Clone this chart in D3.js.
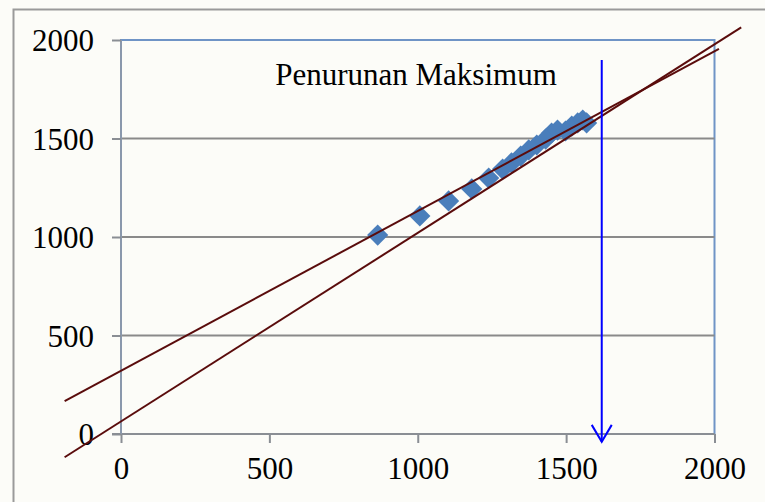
<!DOCTYPE html>
<html>
<head>
<meta charset="utf-8">
<script src="https://cdn.jsdelivr.net/npm/d3@7"></script>
<style>
  html, body { margin: 0; padding: 0; background: #fcfcf8; }
  svg { display: block; }
  svg text { font-family: "Liberation Serif", "Times New Roman", Times, "DejaVu Serif", serif; }
</style>
</head>
<body>
<svg id="chart" width="765" height="502"></svg>
<script>
// Measured settlement points (x vs y)
const xValues = [865, 1007, 1104, 1182, 1239, 1286, 1316, 1347, 1374, 1401, 1431, 1451, 1471, 1498, 1519, 1539, 1556, 1569];
const yValues = [1010, 1107, 1183, 1244, 1299, 1345, 1376, 1411, 1442, 1467, 1497, 1528, 1543, 1538, 1563, 1579, 1594, 1579];

// Two straight reference lines, each given by its two end points
const lineSteepX = [-190, 2090];
const lineSteepY = [-118, 2064];
const lineFlatX = [-190, 2015];
const lineFlatY = [167, 1955];

// Maximum settlement marker
const arrowX = 1620;
const arrowY = [1898, -40];
const arrowLabel = "Penurunan Maksimum";

const xTicks = [0, 500, 1000, 1500, 2000];
const yTicks = [0, 500, 1000, 1500, 2000];

const svg = d3.select("#chart");
const FONT = "Liberation Serif";

// Outer chart frame
svg.append("rect")
  .attr("x", 13.5).attr("y", 9.5)
  .attr("width", 800).attr("height", 600)
  .attr("fill", "#fcfcf8")
  .attr("stroke", "#9a9a9a").attr("stroke-width", 2);

const x = d3.scaleLinear().domain([0, 2000]).range([121, 714.5]);
const y = d3.scaleLinear().domain([0, 2000]).range([434, 40]);

// Plot area
svg.append("rect")
  .attr("x", x(0)).attr("y", y(2000))
  .attr("width", x(2000) - x(0)).attr("height", y(0) - y(2000))
  .attr("fill", "none")
  .attr("stroke", "#6f94c6").attr("stroke-width", 2);

// Horizontal gridlines
svg.append("g").selectAll("line")
  .data(yTicks.filter(t => t > 0 && t < 2000))
  .join("line")
  .attr("x1", x(0)).attr("x2", x(2000))
  .attr("y1", d => y(d)).attr("y2", d => y(d))
  .attr("stroke", "#8a8a8a").attr("stroke-width", 2);

// Axes
const xAxis = svg.append("g")
  .attr("transform", `translate(0,${y(0)})`)
  .call(d3.axisBottom(x).tickValues(xTicks).tickSize(9).tickPadding(14).tickFormat(d3.format("d")));
const yAxis = svg.append("g")
  .attr("transform", `translate(${x(0)},0)`)
  .call(d3.axisLeft(y).tickValues(yTicks).tickSize(9).tickPadding(18).tickFormat(d3.format("d")));

[xAxis, yAxis].forEach(a => a.attr("font-family", FONT).attr("font-size", 31));
xAxis.select(".domain").attr("stroke", "#8a8e94").attr("stroke-width", 2)
  .attr("d", `M${x(0) - 9},0H${x(2000)}`);
yAxis.select(".domain").attr("stroke", "#8a98ac").attr("stroke-width", 2)
  .attr("d", `M0,${y(0)}V${y(2000)}`);
[xAxis, yAxis].forEach(a => {
  a.selectAll(".tick line").attr("stroke", "#8a8e94").attr("stroke-width", 2);
  a.selectAll(".tick text").attr("fill", "#000");
});
yAxis.selectAll(".tick text").attr("dy", "0.34em");
xAxis.selectAll(".tick text").attr("dy", "0.71em");

// Data points (diamonds)
const pts = xValues.map((v, i) => [v, yValues[i]]);
svg.append("g").selectAll("rect")
  .data(pts)
  .join("rect")
  .attr("x", -7.5).attr("y", -7.5)
  .attr("width", 15).attr("height", 15)
  .attr("transform", d => `translate(${x(d[0])},${y(d[1])}) rotate(45)`)
  .attr("fill", "#4a7ebb");

// Reference lines
const lineGen = d3.line().x(d => x(d[0])).y(d => y(d[1]));
[[lineSteepX, lineSteepY], [lineFlatX, lineFlatY]].forEach(([lx, ly]) => {
  svg.append("path")
    .datum(lx.map((v, i) => [v, ly[i]]))
    .attr("d", lineGen)
    .attr("fill", "none")
    .attr("stroke", "#5a0c0c")
    .attr("stroke-width", 2);
});

// Maximum settlement arrow
const ax = x(arrowX), aTop = y(arrowY[0]), aTip = y(arrowY[1]);
svg.append("line")
  .attr("x1", ax).attr("x2", ax)
  .attr("y1", aTop).attr("y2", aTip)
  .attr("stroke", "#0000ff").attr("stroke-width", 2);
svg.append("path")
  .attr("d", `M${ax - 10},${aTip - 17}L${ax},${aTip}L${ax + 10},${aTip - 17}`)
  .attr("fill", "none")
  .attr("stroke", "#0000ff").attr("stroke-width", 2);

svg.append("text")
  .attr("x", 416).attr("y", 85)
  .attr("text-anchor", "middle")
  .attr("font-family", FONT)
  .attr("font-size", 31)
  .attr("fill", "#000")
  .text(arrowLabel);
</script>
</body>
</html>
